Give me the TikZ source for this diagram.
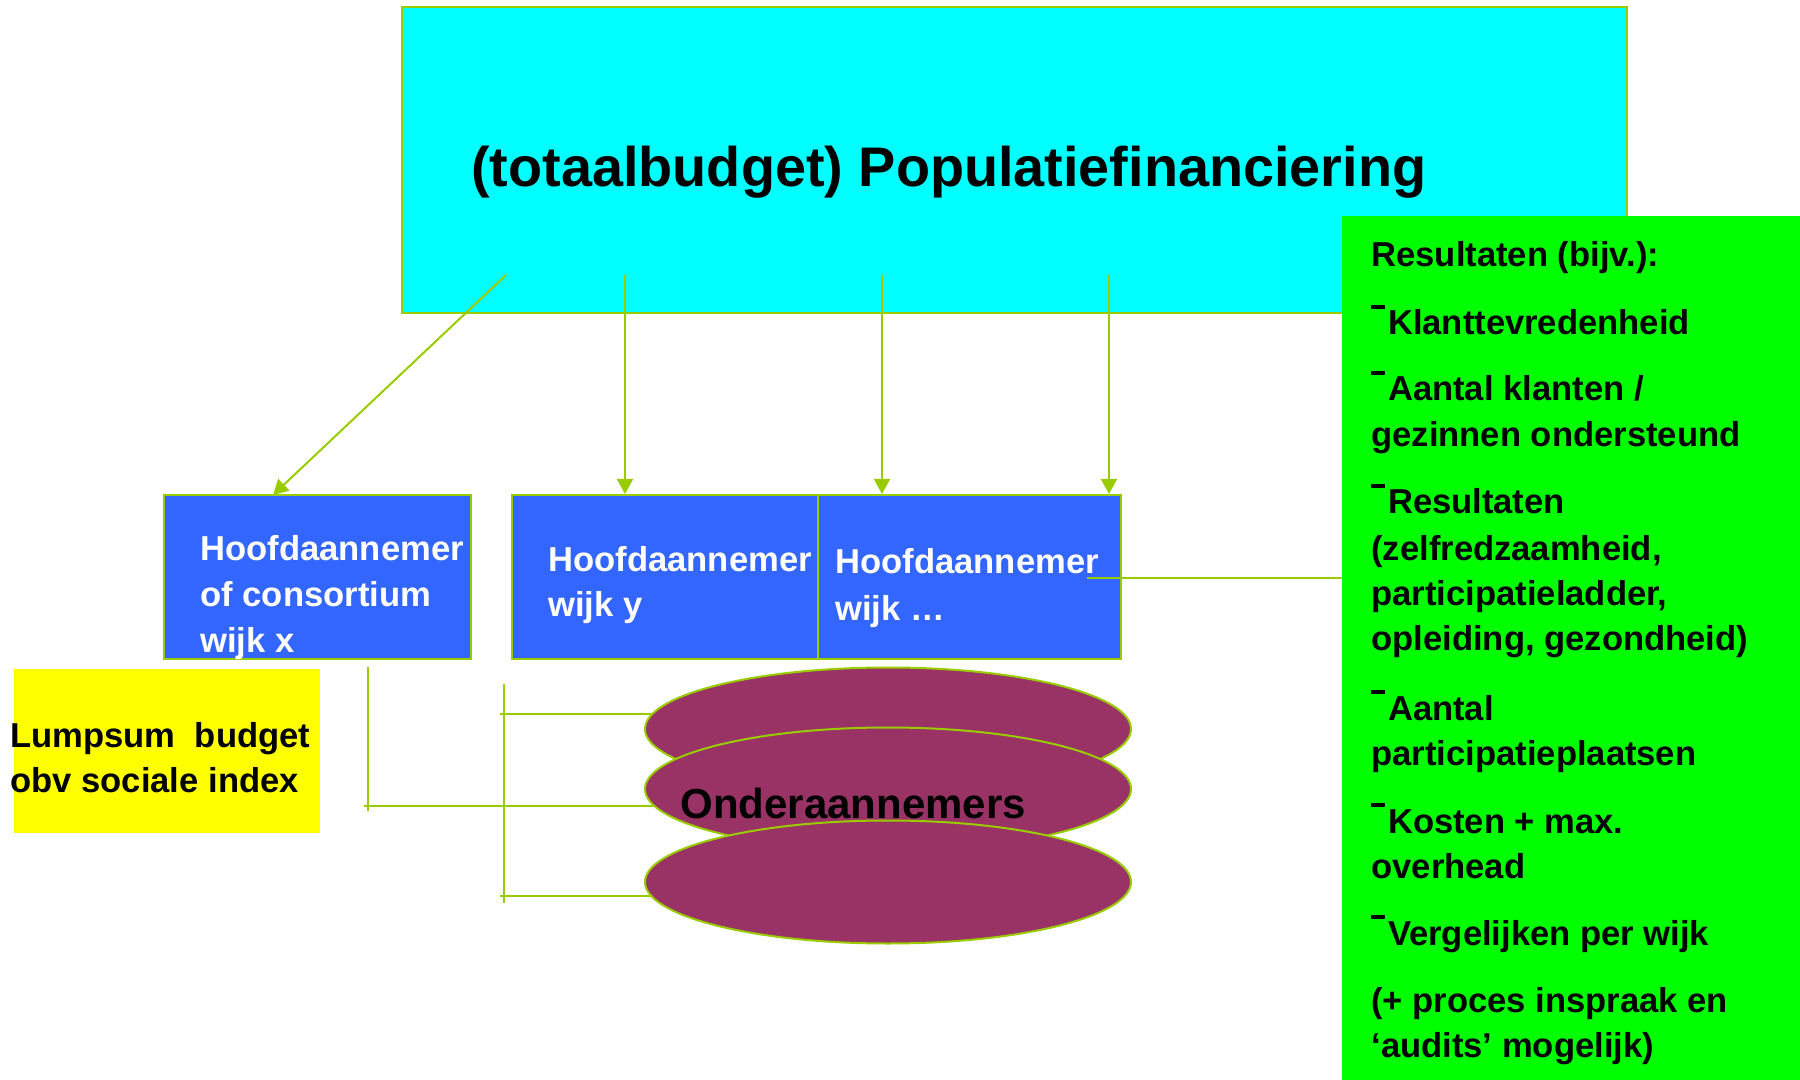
\documentclass[tikz,border=0pt]{standalone}
\usepackage{fontspec}
\setmainfont{Liberation Sans}
\usetikzlibrary{arrows.meta,shapes.geometric,fit,backgrounds}
\definecolor{lineg}{HTML}{99CC00}
\definecolor{cyanbox}{HTML}{00FFFF}
\definecolor{bluebox}{HTML}{3366FF}
\definecolor{greenbox}{HTML}{00FF00}
\definecolor{yellowbox}{HTML}{FFFF00}
\definecolor{ellfill}{HTML}{993366}
\newcommand\gdash{\rule[0.75em]{0.4em}{0.12em}\hspace{0.08em}}
\begin{document}
\begin{tikzpicture}[x=0.5pt,y=-0.5pt,
  panel/.style={inner sep=0pt, fit={#1}},
  bordered/.style={draw=lineg, line width=1pt},
  txt/.style={anchor=base west, inner sep=0pt, font=\bfseries\fontsize{17.3pt}{20pt}\selectfont},
  wtxt/.style={txt, text=white},
  ttl/.style={anchor=base west, inner sep=0pt, font=\bfseries\fontsize{27.9pt}{32pt}\selectfont},
  ell/.style={ellipse, draw=lineg, line width=1pt, fill=ellfill, minimum width=243pt, minimum height=61.5pt, inner sep=0pt},
  conn/.style={draw=lineg, line width=1pt},
  arr/.style={conn, -{Triangle[length=7.5pt,width=8pt]}}
]
\useasboundingbox (0,0) rectangle (1800,1080);

% top box
\node[panel={(402,7) (1627,313)}, bordered, fill=cyanbox] (cy) {};
\node[ttl] (title) at (471,187) {(totaalbudget) Populatiefinanciering};

% arrow starts
\coordinate (a1s) at (506,275);
\coordinate (a1e) at (273,495);
\coordinate (a2s) at (625,275);
\coordinate (a3s) at (882,275);
\coordinate (a4s) at (1109,275);

% blue boxes
\node[panel={(164,495) (471,659)}, bordered, fill=bluebox] (bx1) {};
\node[panel={(512,495) (818,659)}, bordered, fill=bluebox] (bx2) {};
\node[panel={(818,495) (1121,659)}, bordered, fill=bluebox] (bx3) {};

\draw[arr] (a1s) -- (a1e);
\draw[arr] (a2s) -- (a2s |- bx2.north);
\draw[arr] (a3s) -- (a3s |- bx3.north);
\draw[arr] (a4s) -- (a4s |- bx3.north);

\node[wtxt] (b1a) at (200,560) {Hoofdaannemer};
\node[wtxt] (b1b) at (200,606) {of consortium};
\node[wtxt] (b1c) at (200,652) {wijk x};
\node[wtxt] (b2a) at (548,572) {Hoofdaannemer};
\node[wtxt] (b2b) at (548,617) {wijk y};
\node[wtxt] (b3a) at (835,574) {Hoofdaannemer};
\node[wtxt] (b3b) at (835,620) {wijk …};

% green box
\node[panel={(1342,216) (1812,1092)}, fill=greenbox] (gr) {};
\node[txt] (g1) at (1371,267) {Resultaten (bijv.):};
\node[txt] (g2) at (1371,335) {\gdash Klanttevredenheid};
\node[txt] (g3) at (1371,401) {\gdash Aantal klanten /};
\node[txt] (g4) at (1371,447) {gezinnen ondersteund};
\node[txt] (g5) at (1371,514) {\gdash Resultaten};
\node[txt] (g6) at (1371,560) {(zelfredzaamheid,};
\node[txt] (g7) at (1371,605) {participatieladder,};
\node[txt] (g8) at (1371,650) {opleiding, gezondheid)};
\node[txt] (g9) at (1371,720) {\gdash Aantal};
\node[txt] (g10) at (1371,765) {participatieplaatsen};
\node[txt] (g11) at (1371,833) {\gdash Kosten + max.};
\node[txt] (g12) at (1371,878) {overhead};
\node[txt] (g13) at (1371,945) {\gdash Vergelijken per wijk};
\node[txt] (g14) at (1371,1012) {(+ proces inspraak en};
\node[txt] (g15) at (1371,1057) {‘audits’ mogelijk)};

% link from box 3 to green box
\coordinate (l3s) at (1087,578);
\draw[conn] (l3s) -- (l3s -| gr.west);

% yellow box
\node[panel={(14,669) (320,833)}, fill=yellowbox] (yl) {};
\node[txt] (y1) at (10,747) {Lumpsum\ \ budget};
\node[txt] (y2) at (10,792) {obv sociale index};

% subcontractors
\node[ell] (e1) at (888,729) {};
\node[ell] (e2) at (888,789) {};
\node[ell] (e3) at (888,882) {};
\node[anchor=base west, inner sep=0pt, font=\bfseries\fontsize{21pt}{24pt}\selectfont] (ond) at (680,818) {Onderaannemers};

% connector lines behind the ellipses
\coordinate (v1t) at (368,667);
\coordinate (v1b) at (368,811);
\coordinate (h1l) at (364,806);
\coordinate (v2t) at (504,684);
\coordinate (v2b) at (504,903);
\coordinate (h2l) at (500,714);
\coordinate (h3l) at (500,896);
\begin{scope}[on background layer]
\draw[conn] (v1t) -- (v1b);
\draw[conn] (h1l) -- (h1l -| e2.center);
\draw[conn] (v2t) -- (v2b);
\draw[conn] (h2l) -- (h2l -| e1.center);
\draw[conn] (h3l) -- (h3l -| e3.center);
\end{scope}
\end{tikzpicture}
\end{document}
